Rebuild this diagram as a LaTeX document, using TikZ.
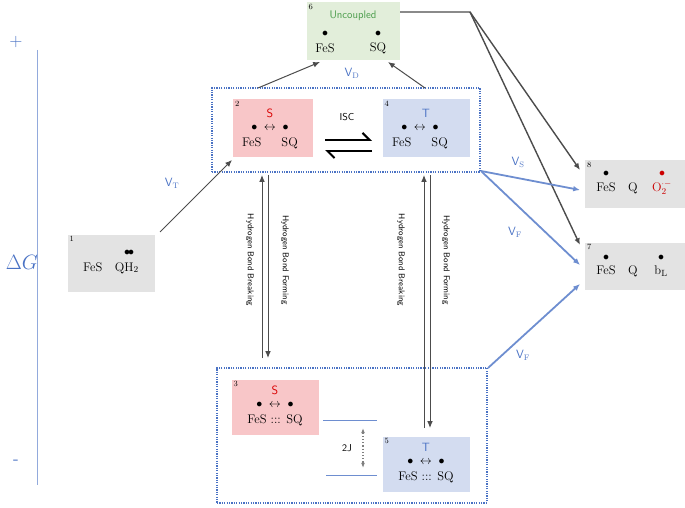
\documentclass[tikz,border=0pt]{standalone}
\usepackage{tikz}
\usetikzlibrary{arrows.meta, positioning}
\definecolor{vblue}{HTML}{4A72C4}
\definecolor{spink}{HTML}{F8C6C8}
\definecolor{tblue}{HTML}{D3DCF0}
\definecolor{ugreen}{HTML}{E2EEDA}
\definecolor{sgray}{HTML}{E3E3E3}
\tikzset{%
>={Latex[width=2mm,length=2.4mm]},
  % state boxes
            num/.style = {font=\fontsize{8}{9}\selectfont, anchor=north west, inner sep=2pt},
            spin/.style = {font=\sffamily\fontsize{12}{13}\selectfont},
            chem/.style = {font=\fontsize{12.5}{14}\selectfont, inner sep=1pt},
            vlab/.style = {font=\sffamily\fontsize{12}{13}\selectfont, text=vblue},
            hb/.style = {font=\sffamily\fontsize{8.5}{9}\selectfont, rotate=-90},
            grey/.style = {draw=black!70, line width=1pt, ->},
            blu/.style = {draw=vblue!80, line width=1.8pt, ->},
            frame/.style = {draw=vblue, line width=2pt, dash pattern=on 1.2pt off 1.2pt}
}
\begin{document}
\begin{tikzpicture}[x=1pt, y=-1pt]
\useasboundingbox (0,0) rectangle (685,508);
% axis
\draw[vblue!60] (37,50) -- (37,485);
\node[vlab] (plus) at (16,42) {\fontsize{18}{18}\selectfont +};
\node[vlab] (minus) at (16,462) {\fontsize{18}{18}\selectfont -};
\node[text=vblue, font=\fontsize{20}{22}\selectfont] (dg) at (22,262) {$\Delta G$};
% frames
\node[frame, minimum width=268pt, minimum height=84pt] (top) at (346,130) {};
\node[frame, minimum width=270pt, minimum height=135pt] (bot) at (352,435) {};
% states
\node[fill=ugreen, minimum width=93pt, minimum height=58pt] (s6) at (353,31) {};
\node[fill=spink, minimum width=80pt, minimum height=57pt] (s2) at (273,128) {};
\node[fill=tblue, minimum width=87pt, minimum height=57pt] (s4) at (426,128) {};
\node[fill=sgray, minimum width=87pt, minimum height=57pt] (s1) at (111,263) {};
\node[fill=sgray, minimum width=100pt, minimum height=48pt] (s8) at (635,184) {};
\node[fill=sgray, minimum width=100pt, minimum height=47pt] (s7) at (635,266) {};
\node[fill=spink, minimum width=87pt, minimum height=55pt] (s3) at (275,407) {};
\node[fill=tblue, minimum width=87pt, minimum height=55pt] (s5) at (426,464) {};
% state 6
\node[num] at (s6.north west) {6};
\node[font=\sffamily\fontsize{11}{12}\selectfont, text=green!45!black!70] at (353,16) {Uncoupled};
\node[chem] at (325,34) {$\bullet$};
\node[chem] at (378,34) {$\bullet$};
\node[chem] at (325,48) {FeS};
\node[chem] at (378,48) {SQ};
% state 2
\node[num] at (s2.north west) {2};
\node[spin, text=red!85!black] at (270,113) {S};
\node[chem] at (270,128) {$\bullet\;\leftrightarrow\;\bullet$};
\node[chem] at (270,143) {FeS\quad\; SQ};
% state 4
\node[num] at (s4.north west) {4};
\node[spin, text=vblue] at (426,113) {T};
\node[chem] at (420,128) {$\bullet\;\leftrightarrow\;\bullet$};
\node[chem] at (420,143) {FeS\quad\; SQ};
% state 1
\node[num] at (s1.north west) {1};
\node[chem] at (129,253) {$\bullet\!\bullet$};
\node[chem] at (111,268) {FeS\quad QH$_2$};
% state 8
\node[num] at (s8.north west) {8};
\node[chem] at (606,174) {$\bullet$};
\node[chem, text=red!80!black] at (662,174) {$\bullet$};
\node[chem] at (617,188) {FeS\quad Q};
\node[chem, text=red!80!black] at (662,188) {O$_2^{\cdot-}$};
% state 7
\node[num] at (s7.north west) {7};
\node[chem] at (606,258) {$\bullet$};
\node[chem] at (661,258) {$\bullet$};
\node[chem] at (617,271) {FeS\quad Q};
\node[chem] at (661,271) {b$_\mathrm{L}$};
% state 3
\node[num] at (s3.north west) {3};
\node[spin, text=red!85!black] at (275,390) {S};
\node[chem] at (275,405) {$\bullet\;\leftrightarrow\;\bullet$};
\node[chem] at (275,420) {FeS ::: SQ};
% state 5
\node[num] at (s5.north west) {5};
\node[spin, text=vblue] at (426,447) {T};
\node[chem] at (426,462) {$\bullet\;\leftrightarrow\;\bullet$};
\node[chem] at (426,477) {FeS ::: SQ};
% splitting
\coordinate (l1a) at (323,420); \coordinate (l1b) at (377,420);
\coordinate (l2a) at (326,475); \coordinate (l2b) at (377,475);
\draw[vblue!80, line width=0.9pt] (l1a) -- (l1b);
\draw[vblue!80, line width=0.9pt] (l2a) -- (l2b);
\coordinate (ja) at (363,428); \coordinate (jb) at (363,468);
\draw[black!50, dotted, line width=1.2pt, {Latex[length=1.8mm]}-{Latex[length=1.8mm]}] (ja) -- (jb);
\node[font=\sffamily\fontsize{10}{11}\selectfont] (j) at (347,448) {2J};
% ISC
\coordinate (ia) at (325,140); \coordinate (ib) at (372,140);
\coordinate (ic) at (372,151); \coordinate (id) at (325,151);
\draw[line width=2pt, -{Straight Barb[left, length=2.5mm]}] (ia) -- (ib);
\draw[line width=2pt, -{Straight Barb[left, length=2.5mm]}] (ic) -- (id);
\node[font=\sffamily\fontsize{10}{11}\selectfont] (isc) at (347,117) {ISC};
% grey connectors
\coordinate (p1) at (160,232); \coordinate (p2) at (232,160);
\draw[grey] (p1) -- (p2);
\node[vlab] at (172,183) {V$_\mathrm{T}$};
\coordinate (p3) at (258,88); \coordinate (p4) at (320,62);
\coordinate (p5) at (425,88); \coordinate (p6) at (388,62);
\draw[grey] (p3) -- (p4);
\draw[grey] (p5) -- (p6);
\node[vlab] at (352,73) {V$_\mathrm{D}$};
\coordinate (q0) at (400,12); \coordinate (q1) at (470,12);
\coordinate (q2) at (580,170); \coordinate (q3) at (580,245);
\draw[grey, line width=1.4pt] (q0) -- (q1) -- (q2);
\draw[grey, line width=1.4pt] (q1) -- (q3);
% blue connectors
\coordinate (b0) at (481,171); \coordinate (b1) at (580,190);
\coordinate (b2) at (580,265); \coordinate (b3) at (488,368);
\coordinate (b4) at (580,284);
\draw[blu] (b0) -- (b1);
\draw[blu] (b0) -- (b2);
\draw[blu] (b3) -- (b4);
\node[vlab] at (518,162) {V$_\mathrm{S}$};
\node[vlab] at (515,232) {V$_\mathrm{F}$};
\node[vlab] at (523,355) {V$_\mathrm{F}$};
% hydrogen bonds
\coordinate (h1) at (262,358); \coordinate (h2) at (262,175);
\coordinate (h3) at (268,175); \coordinate (h4) at (268,358);
\draw[grey] (h1) -- (h2);
\draw[grey] (h3) -- (h4);
\node[hb] at (250,260) {Hydrogen Bond Breaking};
\node[hb] at (285,260) {Hydrogen Bond Forming};
\coordinate (h5) at (424,428); \coordinate (h6) at (424,175);
\coordinate (h7) at (430,175); \coordinate (h8) at (430,428);
\draw[grey] (h5) -- (h6);
\draw[grey] (h7) -- (h8);
\node[hb] at (401,260) {Hydrogen Bond Breaking};
\node[hb] at (446,260) {Hydrogen Bond Forming};
\end{tikzpicture}
\end{document}
